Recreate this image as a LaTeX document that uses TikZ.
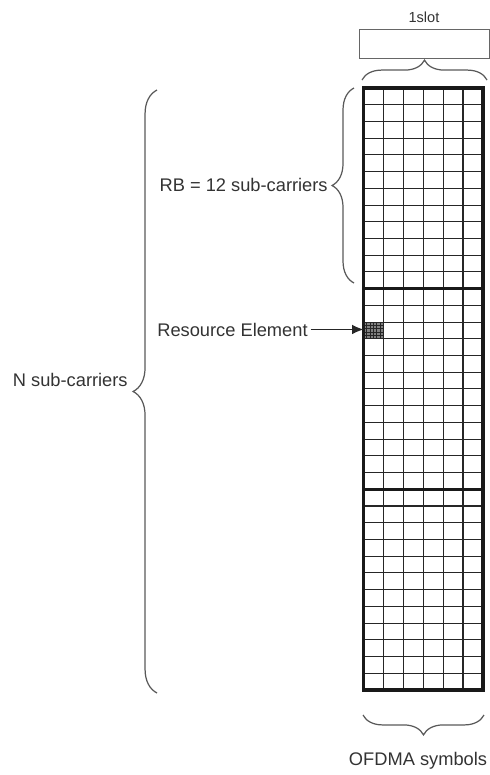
\documentclass[tikz,border=0pt]{standalone}
\usepackage{fontspec}
\setmainfont{Liberation Sans}
\usetikzlibrary{decorations.pathreplacing,arrows.meta}

\tikzset{
  lbl/.style={text=black!80, inner sep=0pt, font=\fontsize{10.4}{12}\selectfont},
  brc/.style={draw=black!65, line width=0.7pt, decorate, decoration={brace, amplitude=#1}},
  thingrid/.style={draw=black!85, line width=0.6pt},
  thickgrid/.style={draw=black!90, line width=1.6pt},
  hatch/.style={draw=black!85, line width=0.4pt},
}
\newcommand{\slotcw}{19.9}
\newcommand{\slotrh}{16.72}

\begin{document}
\begin{tikzpicture}[x=0.02cm, y=-0.02cm]
	\useasboundingbox (0,0) rectangle (490,775);
	
	% Grid corners
	\coordinate (gnw) at (363.5,88);
	\coordinate (gse) at (482.9,689.9);
	
	% Resource element (one sub-carrier x one symbol)
	\fill[black!50] (363.5,322.1) rectangle (383.4,338.8);
	\foreach \k in {1,...,5}
		\draw[hatch] ({363.5+\k*3.3},322.1) -- ++(0,16.7);
	\foreach \k in {1,...,4}
		\draw[hatch] (363.5,{322.1+\k*3.35}) -- ++(19.9,0);
	\coordinate (recell) at (363.5,330.5);
	
	% Grid
	\foreach \r in {1,...,35}
		\draw[thingrid] (363.5,{88+\r*\slotrh}) -- (482.9,{88+\r*\slotrh});
	\foreach \c in {1,...,5}
		\draw[thingrid] ({363.5+\c*\slotcw},88) -- ({363.5+\c*\slotcw},689.9);
	
	% RB boundaries and border
	\foreach \r in {12,24}
		\draw[thickgrid] (363.5,{88+\r*\slotrh}) -- (482.9,{88+\r*\slotrh});
	\draw[thickgrid, line width=2pt] (gnw) rectangle (gse);
	
	% Slot
	\node[lbl, font=\fontsize{8.3}{10}\selectfont, anchor=base] (slot) at (424,22) {1slot};
	\node[draw=black!60, line width=0.5pt, minimum width=2.6cm, minimum height=0.58cm, inner sep=0pt] (slotbox) at (424,43.5) {};
	\coordinate (tl) at (362,80);
	\coordinate (tr) at (487,80);
	\draw[brc=11.3pt] (tl) -- (tr);
	
	% Labels
	\node[lbl, anchor=base east] (rb) at (328,191) {RB = 12 sub-carriers};
	\node[lbl, anchor=base east] (re) at (308,336) {Resource Element};
	\node[lbl, anchor=base east] (nsc) at (128,386) {N sub-carriers};
	\node[lbl, anchor=base] (ofdma) at (418,765) {OFDMA symbols};
	
	% Braces
	\coordinate (rbb) at (354,283);
	\coordinate (rbt) at (354,88);
	\draw[brc=12.5pt] (rbb) -- (rbt);
	\coordinate (nb) at (157,693);
	\coordinate (nt) at (157,90);
	\draw[brc=13.6pt] (nb) -- (nt);
	\coordinate (br) at (484,715);
	\coordinate (bl) at (363,715);
	\draw[brc=11.3pt] (br) -- (bl);
	
	% Arrow to resource element
	\draw[black!85, line width=0.7pt, -{Latex[length=6.5pt,width=5.5pt]}, shorten <=1.5pt] (re.east) -- (re.east -| recell);
\end{tikzpicture}
\end{document}
